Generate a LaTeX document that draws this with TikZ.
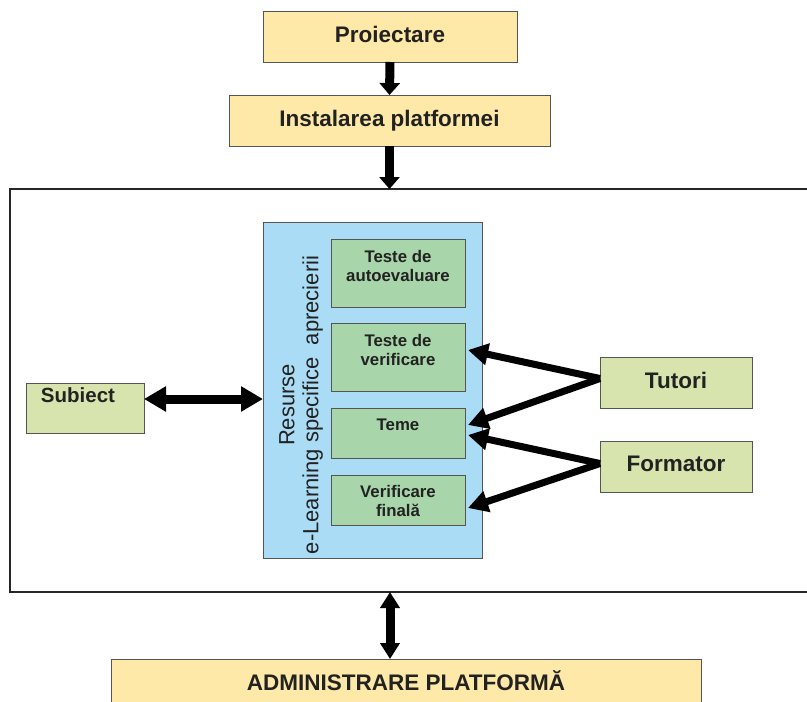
\documentclass[tikz,border=0pt]{standalone}
\usepackage{fontspec}
\setmainfont{Liberation Sans}
\usetikzlibrary{arrows.meta}
\definecolor{ybox}{HTML}{FFE9A8}
\definecolor{lgreen}{HTML}{D7E4AE}
\definecolor{dgreen}{HTML}{A8D5AA}
\definecolor{lblue}{HTML}{AADCF5}
\definecolor{bord}{HTML}{555555}
\definecolor{txt}{HTML}{222222}
\tikzset{
  box/.style={draw=bord, line width=1pt, inner sep=0pt, outer sep=0pt, text=txt, font=\fontsize{22.5}{24}\selectfont\bfseries},
  yb/.style={box, fill=ybox},
  lg/.style={box, fill=lgreen},
  dg/.style={box, fill=dgreen},
  gtext/.style={text=txt, align=center, inner sep=0pt, font=\fontsize{16.8}{19}\selectfont\bfseries},
  bigarrow/.style={line width=9pt, -{Triangle[length=12pt,width=20pt]}},
  slarrow/.style={line width=7pt, -{Triangle[length=20pt,width=21pt]}},
  dblarrow/.style={line width=9pt, {Triangle[length=22pt,width=24pt]}-{Triangle[length=22pt,width=24pt]}},
  vdblarrow/.style={line width=9pt, {Triangle[length=16pt,width=19pt]}-{Triangle[length=16pt,width=19pt]}},
}
\begin{document}
\begin{tikzpicture}[x=1pt,y=-1pt]
\useasboundingbox (0,0) rectangle (807,702);
% frame
\node[draw=black!85, line width=1.2pt, inner sep=0pt, outer sep=0pt, minimum width=805pt, minimum height=403pt] (frame) at (412.5,390.5) {};
% top boxes
\node[yb, minimum width=254pt, minimum height=51pt] (proj) at (390,36.5) {\raisebox{5pt}{Proiectare}};
\node[yb, minimum width=321pt, minimum height=51pt] (inst) at (389.5,120.5) {\raisebox{2pt}{Instalarea platformei}};
\node[yb, minimum width=590pt, minimum height=47pt] (adm) at (406,682.5) {\raisebox{3pt}{ADMINISTRARE PLATFORMĂ}};
% blue box
\node[draw=bord, line width=1pt, fill=lblue, inner sep=0pt, outer sep=0pt, minimum width=219pt, minimum height=336pt] (blue) at (372.5,390) {};
\node[rotate=90, align=center, text=txt, inner sep=0pt, font=\fontsize{22}{24}\selectfont] (blab) at (301,405) {Resurse\\e-Learning specifice\ \ aprecierii};
% green inner boxes
\node[dg, minimum width=134pt, minimum height=68pt] (g1) at (398,273) {};
\node[dg, minimum width=134pt, minimum height=68pt] (g2) at (398,357) {};
\node[dg, minimum width=134pt, minimum height=50pt] (g3) at (398,433) {};
\node[dg, minimum width=134pt, minimum height=50pt] (g4) at (398,500) {};
\node[gtext] (g1t) at (398,266) {Teste de\\autoevaluare};
\node[gtext] (g2t) at (398,350) {Teste de\\verificare};
\node[gtext] (g3t) at (398,425) {Teme};
\node[gtext] (g4t) at (398,501) {Verificare\\finală};
% side boxes
\node[lg, minimum width=118pt, minimum height=50pt] (subj) at (85,408) {};
\node[text=txt, inner sep=0pt, font=\fontsize{20.5}{22}\selectfont\bfseries] (subjt) at (78,395) {Subiect};
\node[lg, minimum width=152pt, minimum height=51pt] (tut) at (676,382.5) {\raisebox{5pt}{Tutori}};
\node[lg, minimum width=152pt, minimum height=51pt] (form) at (676,466.5) {\raisebox{5pt}{Formator}};
% arrows
\draw[bigarrow] (proj.south) -- (inst.north);
\draw[bigarrow] (inst.south) -- (frame.north -| inst.south);
\coordinate (s1) at ([yshift=9pt]subj.east);
\draw[dblarrow] (s1) -- (blue.west |- s1);
\draw[vdblarrow] (frame.south -| adm.north) ++(-16,0) coordinate (b1) -- (b1 |- adm.north);
\coordinate (tj) at ([yshift=4pt]tut.west);
\coordinate (fj) at ([yshift=3pt]form.west);
\draw[slarrow] (tj) -- ([xshift=3pt,yshift=7pt]g2.east);
\draw[slarrow] (tj) -- ([xshift=3pt,yshift=8pt]g3.east);
\draw[slarrow] (fj) -- ([xshift=3pt,yshift=-2pt]g3.east);
\draw[slarrow] (fj) -- ([xshift=3pt,yshift=-8pt]g4.east);
\end{tikzpicture}
\end{document}
